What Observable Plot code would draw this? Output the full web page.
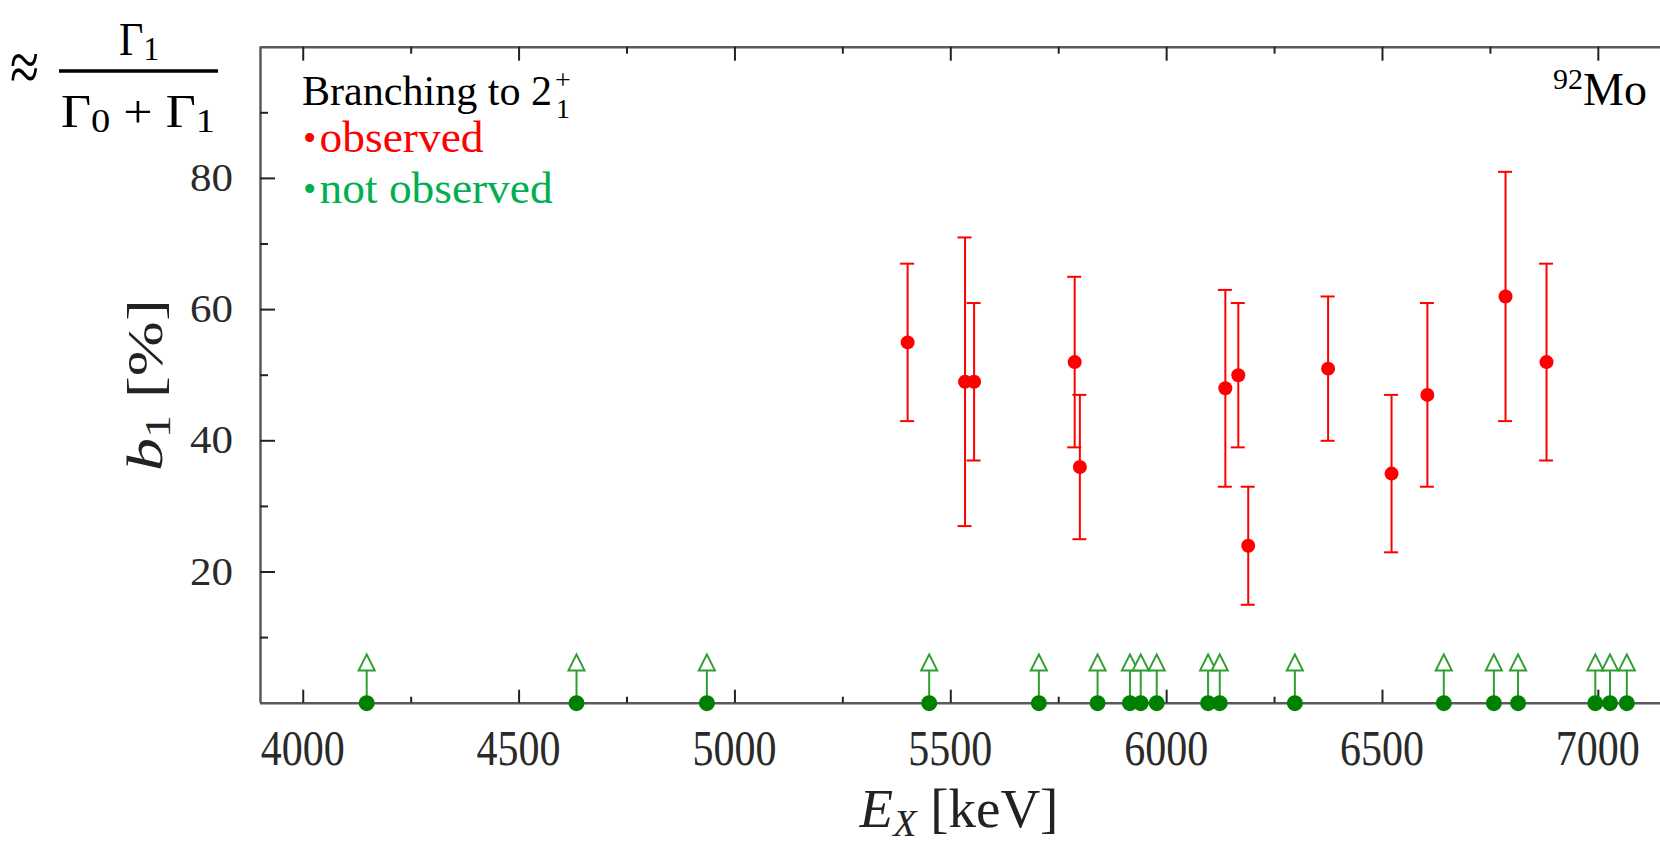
<!DOCTYPE html>
<html>
<head>
<meta charset="utf-8">
<script src="https://cdn.jsdelivr.net/npm/d3@7"></script>
<script src="https://cdn.jsdelivr.net/npm/@observablehq/plot@0.6"></script>
<style>
  html, body { margin: 0; padding: 0; background: #fff; }
  #chart { position: relative; width: 1660px; height: 841px; overflow: hidden; }
</style>
</head>
<body>
<div id="chart"></div>
<script>
// ---------- data ----------
// observed branching (red): excitation energy [keV], b1 [%], error bar low/high
const obsEnergy = [5400, 5533, 5554, 5787, 5799, 6136, 6166, 6189, 6374, 6521, 6604, 6785, 6880];
const obsB1     = [55, 49, 49, 52, 36, 48, 50, 24, 51, 35, 47, 62, 52];
const obsLow    = [43, 27, 37, 39, 25, 33, 39, 15, 40, 23, 33, 43, 37];
const obsHigh   = [67, 71, 61, 65, 47, 63, 61, 33, 62, 47, 61, 81, 67];
// not observed (green): excitation energy [keV], drawn at b1 = 0 with an arrow up to limit
const notObsEnergy = [4147, 4633, 4935, 5450, 5704, 5840, 5915, 5940, 5977, 6096, 6123, 6297, 6642, 6758, 6814, 6993, 7027, 7066];
const notObsB1 = notObsEnergy.map(() => 0);
const notObsLimit = notObsEnergy.map(() => 5);
// axes
const xDomain = [3901, 7144];
const yDomain = [0, 100];
const xMajorTicks = [4000, 4500, 5000, 5500, 6000, 6500, 7000];
const xMinorTicks = [4250, 4750, 5250, 5750, 6250, 6750];
const yMajorTicks = [20, 40, 60, 80];
const yMinorTicks = [10, 30, 50, 70, 90];

// ---------- layout ----------
const W = 1660, H = 841;
const mL = 260, mR = 0, mT = 46.7, mB = 138.3;
const innerW = W - mL - mR, innerH = H - mT - mB;
const serif = "'Liberation Serif', 'DejaVu Serif', serif";

const observed = obsEnergy.map((e, i) => ({e, b: obsB1[i], lo: obsLow[i], hi: obsHigh[i]}));
const notObs = notObsEnergy.map((e, i) => ({e, b: notObsB1[i], lim: notObsLimit[i]}));

const upTriangle = {
  draw(ctx) {
    ctx.moveTo(0, -16);
    ctx.lineTo(8, 0);
    ctx.lineTo(-8, 0);
    ctx.closePath();
  }
};

const axisColor = "#5a5a5a";
const tickColor = "#222";

const plot = Plot.plot({
  width: W, height: H,
  marginLeft: mL, marginRight: mR, marginTop: mT, marginBottom: mB,
  x: {domain: xDomain, axis: null},
  y: {domain: yDomain, axis: null},
  style: {background: "white", overflow: "visible", fontFamily: serif},
  marks: [
    // frame lines
    Plot.ruleY([yDomain[0], yDomain[1]], {stroke: axisColor, strokeWidth: 2.5}),
    Plot.ruleX([xDomain[0]], {stroke: axisColor, strokeWidth: 2.5}),
    // bottom ticks (inward)
    Plot.ruleX(xMajorTicks, {stroke: tickColor, strokeWidth: 2, insetTop: innerH - 13}),
    Plot.ruleX(xMinorTicks, {stroke: tickColor, strokeWidth: 2, insetTop: innerH - 6}),
    // top ticks (inward)
    Plot.ruleX(xMajorTicks, {stroke: tickColor, strokeWidth: 2, insetBottom: innerH - 14}),
    Plot.ruleX(xMinorTicks, {stroke: tickColor, strokeWidth: 2, insetBottom: innerH - 7}),
    // left ticks (inward)
    Plot.ruleY(yMajorTicks, {stroke: tickColor, strokeWidth: 2, insetRight: innerW - 15}),
    Plot.ruleY(yMinorTicks, {stroke: tickColor, strokeWidth: 2, insetRight: innerW - 8}),
    // not observed: arrows
    Plot.ruleX(notObs, {x: "e", y1: "b", y2: "lim", stroke: "#2e9e2e", strokeWidth: 2}),
    Plot.dot(notObs, {x: "e", y: "b", r: 8, fill: "#008000", stroke: "none"}),
    Plot.dot(notObs, {x: "e", y: "lim", symbol: upTriangle, fill: "white", stroke: "#2e9e2e", strokeWidth: 2}),
    // observed: error bars + points
    Plot.ruleX(observed, {x: "e", y1: "lo", y2: "hi", stroke: "#ff0000", strokeWidth: 2}),
    Plot.ruleY(observed, {y: "hi", x1: "e", x2: "e", insetLeft: -7, insetRight: -7, stroke: "#ff0000", strokeWidth: 2}),
    Plot.ruleY(observed, {y: "lo", x1: "e", x2: "e", insetLeft: -7, insetRight: -7, stroke: "#ff0000", strokeWidth: 2}),
    Plot.dot(observed, {x: "e", y: "b", r: 7, fill: "#ff0000", stroke: "none"})
  ]
});

document.getElementById("chart").appendChild(plot);

// ---------- tick labels & annotations (positions from Plot's scales) ----------
const sx = plot.scale("x"), sy = plot.scale("y");
const svg = d3.select(plot);
const ann = svg.append("g")
  .attr("font-family", serif).style("font-family", serif)
  .attr("text-anchor", "start").attr("fill", "black");

// x tick labels (condensed, tall like the original)
ann.append("g").attr("aria-label", "x tick labels")
  .selectAll("text").data(xMajorTicks).join("text")
  .attr("x", d => sx.apply(d) - 42).attr("y", 765)
  .attr("font-size", 50).attr("fill", "#2a2a2a")
  .attr("textLength", 84).attr("lengthAdjust", "spacingAndGlyphs")
  .text(d => String(d));

// y tick labels
ann.append("g").attr("aria-label", "y tick labels")
  .selectAll("text").data(yMajorTicks).join("text")
  .attr("x", 233 - 43).attr("y", d => sy.apply(d) + 13)
  .attr("font-size", 39).attr("fill", "#2a2a2a")
  .attr("textLength", 43).attr("lengthAdjust", "spacingAndGlyphs")
  .text(d => String(d));

// formula: ≈ Γ1 / (Γ0 + Γ1)
ann.append("text").attr("x", 10).attr("y", 91).attr("font-size", 72).attr("textLength", 29)
  .attr("lengthAdjust", "spacingAndGlyphs").text("≈");
ann.append("line").attr("x1", 59).attr("x2", 218).attr("y1", 71).attr("y2", 71)
  .attr("stroke", "black").attr("stroke-width", 3.5);
const num = ann.append("text").attr("x", 119).attr("y", 55).attr("font-size", 46)
  .attr("textLength", 40).attr("lengthAdjust", "spacingAndGlyphs");
num.append("tspan").text("Γ");
num.append("tspan").attr("font-size", 34).attr("dy", 5).text("1");
const den = ann.append("text").attr("x", 61).attr("y", 127).attr("font-size", 46)
  .attr("textLength", 154).attr("lengthAdjust", "spacingAndGlyphs");
den.append("tspan").text("Γ");
den.append("tspan").attr("font-size", 34).attr("dy", 5).text("0");
den.append("tspan").attr("dy", -5).text(" + Γ");
den.append("tspan").attr("font-size", 34).attr("dy", 5).text("1");

// axis titles
const xt = ann.append("text").attr("x", 959).attr("y", 827).attr("text-anchor", "middle").attr("font-size", 55).attr("fill", "#222");
xt.append("tspan").attr("font-style", "italic").text("E");
xt.append("tspan").attr("font-style", "italic").attr("font-size", 38).attr("dy", 9).text("X");
xt.append("tspan").attr("dy", -9).text(" [keV]");

const yt = ann.append("text").attr("transform", "translate(162,385) rotate(-90)").attr("text-anchor", "middle")
  .attr("font-size", 50).attr("fill", "#222")
  .attr("textLength", 172).attr("lengthAdjust", "spacingAndGlyphs");
yt.append("tspan").attr("font-style", "italic").text("b");
yt.append("tspan").attr("font-size", 35).attr("dy", 8).text("1");
yt.append("tspan").attr("dy", -8).text(" [%]");

// legend
ann.append("text").attr("x", 302).attr("y", 105).attr("font-size", 42)
  .attr("textLength", 250).attr("lengthAdjust", "spacingAndGlyphs").text("Branching to 2");
ann.append("text").attr("x", 556).attr("y", 118).attr("font-size", 28).text("1");
ann.append("text").attr("x", 555).attr("y", 89).attr("font-size", 28).text("+");

ann.append("text").attr("x", 303).attr("y", 151).attr("font-size", 38).attr("fill", "#ff0000").text("•");
ann.append("text").attr("x", 319.6).attr("y", 152).attr("font-size", 44).attr("fill", "#ff0000")
  .attr("textLength", 164).attr("lengthAdjust", "spacingAndGlyphs").text("observed");
ann.append("text").attr("x", 303).attr("y", 202).attr("font-size", 38).attr("fill", "#00b050").text("•");
ann.append("text").attr("x", 319.6).attr("y", 203).attr("font-size", 44).attr("fill", "#00b050")
  .attr("textLength", 233).attr("lengthAdjust", "spacingAndGlyphs").text("not observed");

// nucleus label
const mo = ann.append("text").attr("x", 1647).attr("y", 105).attr("text-anchor", "end").attr("font-size", 46);
mo.append("tspan").attr("font-size", 30).attr("dy", -16).text("92");
mo.append("tspan").attr("dy", 16).text("Mo");
</script>
</body>
</html>
